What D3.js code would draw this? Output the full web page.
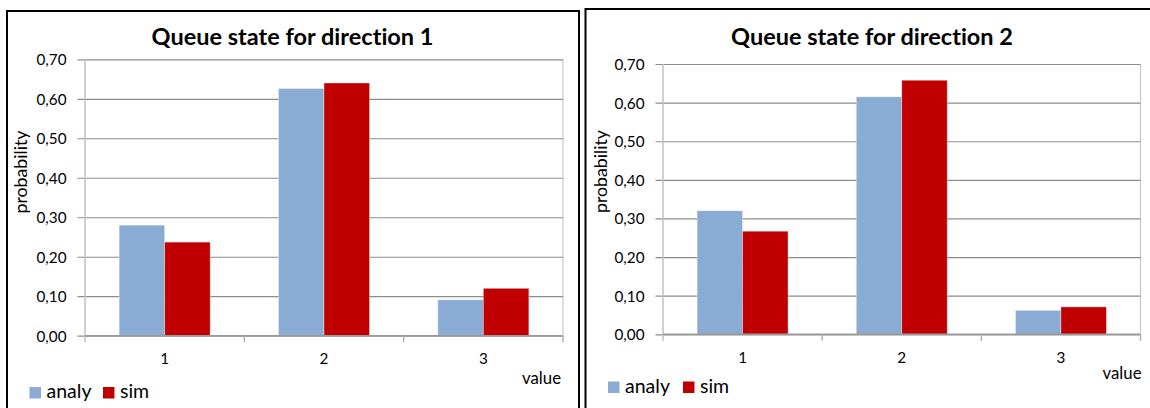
<!DOCTYPE html>
<html>
<head>
<meta charset="utf-8">
<script src="https://cdn.jsdelivr.net/npm/d3@7"></script>
<style>
  html, body { margin: 0; padding: 0; background: #fff; }
  svg { display: block; }
  text { font-family: Lato, "Open Sans", sans-serif; fill: #000; font-variant-ligatures: none; }
</style>
</head>
<body>
<svg id="chart" width="1150" height="408"></svg>
<script>
// ---- data ----
const categories = ["1", "2", "3"];
const seriesNames = ["analy", "sim"];
const dir1Analy = [0.280, 0.626, 0.091];
const dir1Sim   = [0.237, 0.640, 0.120];
const dir2Analy = [0.320, 0.615, 0.062];
const dir2Sim   = [0.267, 0.658, 0.071];
const yTickValues = [0, 0.1, 0.2, 0.3, 0.4, 0.5, 0.6, 0.7];
const titles = ["Queue state for direction 1", "Queue state for direction 2"];
const yAxisTitle = "probability";
const xAxisTitle = "value";

const colors = { analy: "#8aabd3", sim: "#c00000" };
const fmt = v => d3.format(".2f")(v).replace(".", ",");

const svg = d3.select("#chart");
svg.append("rect").attr("width", 1150).attr("height", 408).attr("fill", "#fff");

// measure a string at a given style to fit a target width
function fitSize(str, target, weight) {
  const t = svg.append("text").style("font-size", "20px")
    .style("font-weight", weight || "normal").text(str);
  const w = t.node().getComputedTextLength();
  t.remove();
  return 20 * target / w;
}
const tickSize = fitSize("0,70", 30);
const titleSize = fitSize(titles[0], 282, "bold");
const yTitleSize = fitSize(yAxisTitle, 83);
const valueSize = fitSize(xAxisTitle, 39);
const legendSize = fitSize("analy", 45);

const layouts = [
  { frame: [7, 11, 572, 430], plot: { l: 85, r: 563, t: 59.3, b: 335.7 },
    titleX: 292.5, titleY: 45, yLab: [27, 172], valueXY: [561, 384], catY: 364,
    legend: { x: 29.5, y: 398, gap: 11.5 } },
  { frame: [585.5, 9, 620, 430], plot: { l: 663, r: 1140.5, t: 64, b: 334.3 },
    titleX: 872, titleY: 45, yLab: [606.5, 171.5], valueXY: [1141.5, 378.5], catY: 363,
    legend: { x: 608, y: 392.5, gap: 13 } }
];
const dataSets = [
  { analy: dir1Analy, sim: dir1Sim },
  { analy: dir2Analy, sim: dir2Sim }
];

layouts.forEach((L, i) => {
  const g = svg.append("g");
  const P = L.plot;
  const data = dataSets[i];

  // frame
  g.append("rect")
    .attr("x", L.frame[0]).attr("y", L.frame[1])
    .attr("width", L.frame[2]).attr("height", L.frame[3])
    .attr("fill", "none").attr("stroke", "#000").attr("stroke-width", 2);

  const x = d3.scaleBand().domain(categories).range([P.l, P.r]).padding(0);
  const xs = d3.scaleBand().domain(seriesNames).range([0, x.bandwidth()])
    .paddingInner(0).paddingOuter(0.75);
  const y = d3.scaleLinear().domain([0, 0.7]).range([P.b, P.t]);

  // plot right border (light)
  g.append("line").attr("x1", P.r).attr("x2", P.r).attr("y1", P.t).attr("y2", P.b)
    .attr("stroke", "#c8c8c8").attr("stroke-width", 1.2);

  // y axis with gridlines
  const yAxis = d3.axisLeft(y).tickValues(yTickValues).tickFormat(fmt)
    .tickSize(-(P.r - P.l)).tickPadding(0);
  const ya = g.append("g").attr("transform", `translate(${P.l},0)`).call(yAxis);
  ya.select(".domain").remove();
  ya.selectAll(".tick line")
    .attr("x1", -7.5)
    .attr("stroke", "#8c8c8c").attr("stroke-width", 1.2);
  ya.selectAll(".tick text")
    .attr("x", -18.5).attr("dy", "0.36em")
    .style("font-size", tickSize + "px").style("font-family", "Lato, sans-serif");

  // vertical axis line
  g.append("line").attr("x1", P.l).attr("x2", P.l).attr("y1", P.t).attr("y2", P.b + 6.5)
    .attr("stroke", "#c0c0c0").attr("stroke-width", 1.5);

  // bars
  seriesNames.forEach(s => {
    g.append("g").selectAll("rect")
      .data(categories.map((c, k) => ({ c, v: data[s][k] })))
      .join("rect")
      .attr("x", d => x(d.c) + xs(s))
      .attr("width", xs.bandwidth())
      .attr("y", d => y(d.v))
      .attr("height", d => y(0) - y(d.v))
      .attr("fill", colors[s])
      .attr("stroke", "rgba(255,255,255,0.45)").attr("stroke-width", 0.8);
  });

  // x axis
  const xAxis = d3.axisBottom(x).tickSize(0).tickPadding(0);
  const xa = g.append("g").attr("transform", `translate(0,${P.b})`).call(xAxis);
  xa.select(".domain").attr("stroke", "#9a9a9a").attr("stroke-width", 1.5)
    .attr("d", `M${P.l},0H${P.r}`);
  xa.selectAll(".tick text").attr("y", L.catY - P.b).attr("dy", 0)
    .style("font-size", tickSize + "px").style("font-family", "Lato, sans-serif");
  // category boundary tick marks
  g.append("g").selectAll("line")
    .data(categories.slice(1).concat(["end"]))
    .join("line")
    .attr("x1", d => d === "end" ? P.r : x(d))
    .attr("x2", d => d === "end" ? P.r : x(d))
    .attr("y1", P.b).attr("y2", P.b + 6.5)
    .attr("stroke", "#b0b0b0").attr("stroke-width", 1.5);

  // title
  g.append("text").attr("x", L.titleX).attr("y", L.titleY)
    .attr("text-anchor", "middle")
    .style("font-size", titleSize + "px").style("font-weight", "bold")
    .text(titles[i]);

  // axis titles
  g.append("text")
    .attr("transform", `translate(${L.yLab[0]},${L.yLab[1]}) rotate(-90)`)
    .attr("text-anchor", "middle").style("font-size", yTitleSize + "px")
    .text(yAxisTitle);
  g.append("text").attr("x", L.valueXY[0]).attr("y", L.valueXY[1])
    .attr("text-anchor", "end").style("font-size", valueSize + "px")
    .text(xAxisTitle);

  // legend
  let lx = L.legend.x;
  seriesNames.forEach((s, k) => {
    g.append("rect").attr("x", lx).attr("y", L.legend.y - 11)
      .attr("width", 11.5).attr("height", 11.5).attr("fill", colors[s]);
    const t = g.append("text").attr("x", lx + 17).attr("y", L.legend.y)
      .style("font-size", legendSize + "px").text(s);
    lx = lx + 17 + t.node().getComputedTextLength() + L.legend.gap;
  });
});
</script>
</body>
</html>
